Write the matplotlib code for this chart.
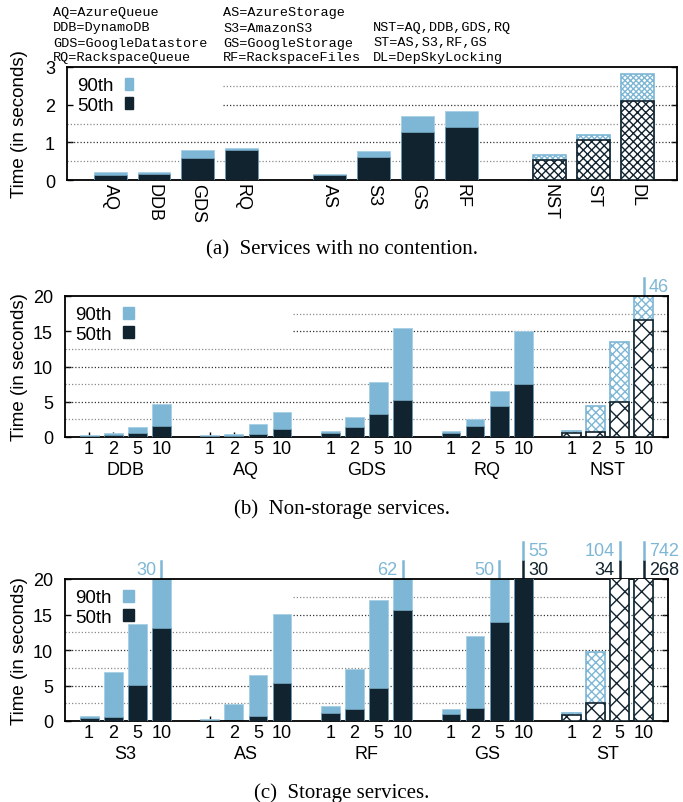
import matplotlib.pyplot as plt
from matplotlib.patches import Patch

DPI = 100
W, H = 683, 803

LIGHT = "#7eb7d5"
DARK = "#11232e"
SANS = ["Liberation Sans", "DejaVu Sans"]

# (a) servicios sin contención
svc_a = ["AQ", "DDB", "GDS", "RQ", "AS", "S3", "GS", "RF", "NST", "ST", "DL"]
p50_a = [0.14, 0.17, 0.58, 0.80, 0.12, 0.62, 1.28, 1.40, 0.54, 1.06, 2.11]
p90_a = [0.20, 0.21, 0.80, 0.85, 0.16, 0.76, 1.69, 1.84, 0.67, 1.20, 2.82]
blocks_a = [4, 4, 3]
hatched_a = ["NST", "ST", "DL"]

# número de clientes concurrentes
clients = ["1", "2", "5", "10"]

# (b) servicios que no son de almacenamiento
grp_b = ["DDB", "AQ", "GDS", "RQ", "NST"]
p50_b = [[0.14, 0.28, 0.57, 1.56],
         [0.14, 0.14, 0.47, 1.09],
         [0.52, 1.47, 3.20, 5.20],
         [0.60, 1.56, 4.35, 7.47],
         [0.60, 0.70, 4.96, 16.6]]
p90_b = [[0.28, 0.61, 1.47, 4.68],
         [0.28, 0.47, 1.80, 3.50],
         [0.85, 2.84, 7.75, 15.4],
         [0.80, 2.60, 6.48, 15.08],
         [0.85, 4.40, 13.5, 46]]
side_b = {("NST", "10"): "right"}

# (c) servicios de almacenamiento
grp_c = ["S3", "AS", "RF", "GS", "ST"]
p50_c = [[0.42, 0.56, 5.10, 13.1],
         [0.14, 0.05, 0.70, 5.35],
         [1.13, 1.64, 4.65, 15.6],
         [1.03, 1.83, 13.94, 30],
         [0.85, 2.54, 34, 268]]
p90_c = [[0.70, 6.85, 13.7, 30],
         [0.28, 2.40, 6.50, 15.07],
         [2.16, 7.30, 17.0, 62],
         [1.69, 12.0, 50, 55],
         [1.13, 9.67, 104, 742]]
side_c = {("S3", "10"): "left", ("RF", "10"): "left", ("GS", "5"): "left",
          ("GS", "10"): "right", ("ST", "5"): "left", ("ST", "10"): "right"}

plt.rcParams["font.family"] = SANS
plt.rcParams["hatch.linewidth"] = 1.0

FS = 13


def pt(px):
    return px * 72 / DPI


def slots(sizes):
    pos, p = [], 1
    for n in sizes:
        pos += list(range(p, p + n))
        p += n + 1
    return pos


def axes_px(l, r, t, b):
    return [l / W, 1 - b / H, (r - l) / W, (b - t) / H]


def bars(ax, x, p50, p90, hatched, width, h_light, h_dark):
    for xi, lo, hi, h in zip(x, p50, p90, hatched):
        if h:
            ax.bar(xi, hi, width, facecolor="white", edgecolor=LIGHT,
                   hatch=h_light, lw=1.2, zorder=2)
            ax.bar(xi, lo, width, facecolor="white", edgecolor=DARK,
                   hatch=h_dark, lw=1.2, zorder=3)
        else:
            ax.bar(xi, hi, width, color=LIGHT, ec="#a6cfe4", lw=0.6, zorder=2)
            ax.bar(xi, lo, width, color=DARK, ec="#6f9fb8", lw=0.6, zorder=3)


def grid(ax, major, minor, hidden, cut):
    # la caja de la leyenda de gnuplot tapa el principio de algunas líneas
    for y in major + minor:
        c = "#333333" if y in major else "#8a8a8a"
        ax.axhline(y, xmin=cut if y in hidden else 0, color=c, lw=0.9,
                   ls=(0, (1, 1.6)), zorder=1)


def style(ax, yticks, ylim, xlim):
    ax.set_ylim(*ylim)
    ax.set_xlim(*xlim)
    ax.set_yticks(yticks)
    ax.set_axisbelow(True)
    for s in ax.spines.values():
        s.set_linewidth(1.3)
    ax.tick_params(axis="y", direction="in", left=True, right=True,
                   length=pt(6), width=1, labelsize=FS, pad=pt(12))
    ax.tick_params(axis="x", which="major", direction="in", top=False,
                   length=pt(5), width=1, labelsize=FS)


def legend(ax, hl, hh):
    ax.legend(handles=[Patch(color=LIGHT), Patch(color=DARK)],
              labels=["90th", "50th"], loc="upper left", frameon=False,
              markerfirst=False, handlelength=hl, handleheight=hh,
              handletextpad=0.6, labelspacing=0.12, fontsize=13.5,
              borderaxespad=0.25, borderpad=0.3)


def overflow(ax, x, lo, hi, side, ymax, ax_h):
    sign = 1 if side == "right" else -1
    ha = "left" if side == "right" else "right"
    rows = [(hi, LIGHT)] if lo <= ymax else [(lo, DARK), (hi, LIGHT)]
    for i, (val, col) in enumerate(rows):
        y0 = 1 + (1 + 19 * i) / ax_h
        y1 = 1 + (18 + 19 * i) / ax_h
        ax.plot([x, x], [y0, y1], color=col, lw=1.8, clip_on=False,
                transform=ax.get_xaxis_transform())
        ax.annotate(f"{val:g}", xy=(x, (y0 + y1) / 2),
                    xycoords=("data", "axes fraction"),
                    xytext=(sign * pt(5), 0), textcoords="offset points",
                    ha=ha, va="center", color=col, fontsize=FS)


fig = plt.figure(figsize=(W / DPI, H / DPI), dpi=DPI)

# ---------- (a) ----------
ax = fig.add_axes(axes_px(67, 677, 68, 181))
xa = slots(blocks_a)
bars(ax, xa, p50_a, p90_a, [s in hatched_a for s in svc_a], 0.75,
     "xxxxxx", "xxxx")
style(ax, [0, 1, 2, 3], (0, 3), (0.02, 13.9))
grid(ax, [1, 2], [0.5, 1.5, 2.5], [2, 2.5], 0.256)
ax.set_xticks(xa)
ax.set_xticklabels(svc_a, rotation=-90)
ax.tick_params(axis="x", pad=pt(3))
legend(ax, 0.4, 0.6)
fig.text(20 / W, 1 - 124 / H, "Time (in seconds)", rotation=90,
         ha="center", va="center", fontsize=13.5)

# ---------- (b) y (c) ----------
for grp, p50, p90, side, hatched, top, bot in [
        (grp_b, p50_b, p90_b, side_b, "NST", 297, 438),
        (grp_c, p50_c, p90_c, side_c, "ST", 580, 722)]:
    ax = fig.add_axes(axes_px(65, 668, top, bot))
    x = slots([len(clients)] * len(grp))
    lo = [v for row in p50 for v in row]
    hi = [v for row in p90 for v in row]
    hflags = [g == hatched for g in grp for _ in clients]
    bars(ax, x, lo, hi, hflags, 0.78, "xxxx", "xx")
    style(ax, [0, 5, 10, 15, 20], (0, 20), (0, 25))
    grid(ax, [5, 10, 15], [2.5, 7.5, 12.5, 17.5], [15, 17.5], 0.378)
    ax.set_xticks(x)
    ax.set_xticklabels(clients * len(grp))
    ax.tick_params(axis="x", which="major", pad=pt(3))
    centers = [sum(x[i * 4:(i + 1) * 4]) / 4 for i in range(len(grp))]
    ax.set_xticks(centers, minor=True)
    ax.set_xticklabels(grp, minor=True)
    ax.tick_params(axis="x", which="minor", length=0, pad=pt(24),
                   labelsize=FS)
    legend(ax, 0.55, 0.6)
    ax_h = bot - top
    for gi, g in enumerate(grp):
        for ci, c in enumerate(clients):
            if (g, c) in side:
                overflow(ax, x[gi * 4 + ci], p50[gi][ci], p90[gi][ci],
                         side[(g, c)], 20, ax_h)
    fig.text(20 / W, 1 - (top + bot) / 2 / H, "Time (in seconds)",
             rotation=90, ha="center", va="center", fontsize=13.5)

# leyenda de abreviaturas
abbr = [["AQ=AzureQueue", "DDB=DynamoDB", "GDS=GoogleDatastore",
         "RQ=RackspaceQueue"],
        ["AS=AzureStorage", "S3=AmazonS3", "GS=GoogleStorage",
         "RF=RackspaceFiles"],
        ["", "NST=AQ,DDB,GDS,RQ", "ST=AS,S3,RF,GS", "DL=DepSkyLocking"]]
for col, xpx in zip(abbr, [53, 223, 373]):
    for row, ypx in zip(col, [13, 28.5, 43.5, 58]):
        fig.text(xpx / W, 1 - ypx / H, row, family="Liberation Mono",
                 fontsize=9.7, va="center", ha="left")

# pies de figura
for txt, ypx in [("(a)  Services with no contention.", 250),
                 ("(b)  Non-storage services.", 509),
                 ("(c)  Storage services.", 793)]:
    fig.text(0.5, 1 - ypx / H, txt, family="Liberation Serif", fontsize=15,
             ha="center", va="center")

fig.savefig("out.png", dpi=DPI)
